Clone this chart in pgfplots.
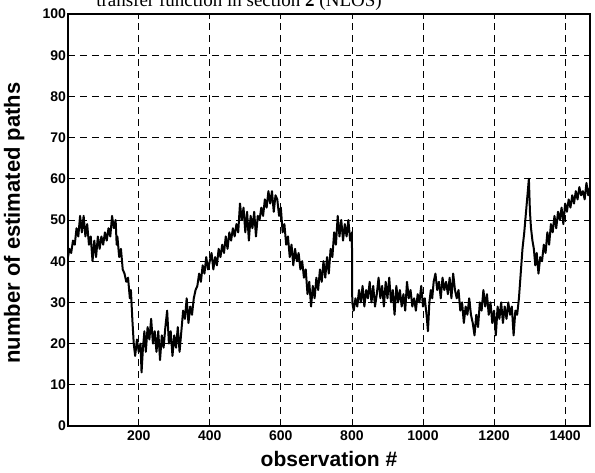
\documentclass[border=0pt]{standalone}
\usepackage{pgfplots}
\pgfplotsset{compat=1.18}
\usepackage{fontspec}
\setmainfont{Liberation Serif}
\setsansfont{Liberation Sans}
\begin{document}
\begin{tikzpicture}
\begin{axis}[
  at={(0,0)}, anchor=south west,
  scale only axis, width=522pt, height=412pt,
  xmin=1, xmax=1470, ymin=0, ymax=100,
  xtick={200,400,...,1400}, ytick={0,10,...,100},
  axis line style={line width=1.4pt},
  tick style={black, line width=0.8pt},
  major tick length=5pt, tick align=inside,
  grid=major,
  major grid style={black, line width=0.8pt, dash pattern=on 7pt off 5pt},
  tick label style={font=\sffamily\bfseries\fontsize{14}{14}\selectfont},
  /pgf/number format/assume math mode=true,
  /pgf/number format/1000 sep={},
  yticklabel style={xshift=1.5pt},
  xticklabel style={yshift=-1pt},
  clip=true,
]
\addplot[black, line width=2pt, line join=round] coordinates {
(1,41)(5,43)(10,42)(15,45)(20,44)(25,48)(30,46)(35,51)(40,47)(45,51)(50,46)(55,49)(60,44)(65,46)(70,40)(75,45)(80,41)(85,46)(90,43)(95,46)(100,44)(105,47)(110,45)(115,48)(120,46)(125,51)(130,48)(135,50)(138,44)(140,46)(145,41)(150,43)(155,38)(160,37)(165,35)(170,36)(175,31)(178,33)(182,26)(186,20)(190,17)(195,21)(200,18)(205,20)(208,13)(212,19)(216,23)(220,18)(225,24)(230,21)(235,26)(240,20)(245,23)(250,18)(255,23)(260,16)(265,22)(270,19)(275,24)(280,28)(285,20)(290,23)(295,17)(300,22)(305,19)(310,24)(315,18)(320,23)(325,28)(330,26)(335,31)(340,25)(345,29)(350,27)(355,31)(360,33)(365,34)(370,37)(375,35)(380,39)(385,37)(390,41)(395,38)(400,40)(405,42)(410,38)(415,41)(420,39)(425,43)(430,41)(435,44)(440,42)(445,46)(450,43)(455,47)(460,45)(465,48)(470,46)(475,49)(480,47)(485,54)(490,50)(495,53)(500,47)(505,52)(510,45)(515,51)(520,48)(525,52)(530,46)(535,51)(540,50)(545,53)(550,51)(555,55)(560,53)(565,57)(570,54)(575,57)(580,52)(585,56)(590,55)(595,51)(600,53)(605,47)(610,49)(615,44)(620,46)(625,41)(630,44)(635,39)(640,43)(645,40)(650,42)(655,38)(660,40)(665,36)(670,38)(675,32)(680,35)(685,29)(690,34)(695,31)(700,36)(705,33)(710,38)(715,35)(720,40)(725,36)(730,41)(735,37)(740,43)(745,41)(750,47)(755,44)(760,51)(765,46)(770,50)(775,45)(780,49)(785,46)(790,50)(795,45)(800,47)(801,30)(805,28)(810,31)(815,29)(820,33)(825,30)(830,34)(835,29)(840,33)(845,31)(850,35)(855,30)(860,34)(865,29)(870,32)(875,36)(880,31)(885,34)(890,29)(895,35)(900,31)(905,36)(910,30)(915,33)(920,27)(925,34)(930,30)(935,33)(940,29)(945,32)(950,28)(955,35)(960,31)(965,33)(970,29)(975,31)(980,28)(985,32)(990,30)(995,34)(1000,29)(1005,31)(1010,27)(1014,23)(1018,30)(1022,33)(1026,31)(1030,35)(1035,37)(1040,33)(1045,35)(1050,31)(1055,36)(1060,33)(1065,35)(1070,32)(1075,36)(1080,31)(1085,37)(1090,33)(1095,31)(1100,33)(1105,28)(1110,30)(1115,25)(1120,29)(1125,27)(1130,31)(1135,27)(1140,25)(1145,22)(1150,27)(1155,24)(1160,30)(1165,28)(1170,33)(1175,29)(1180,32)(1185,27)(1190,30)(1195,25)(1200,28)(1205,22)(1210,29)(1215,26)(1220,30)(1225,25)(1230,29)(1235,26)(1240,30)(1245,27)(1250,29)(1255,22)(1260,28)(1265,27)(1270,31)(1275,37)(1280,43)(1285,47)(1290,52)(1295,57)(1298,60)(1301,52)(1304,48)(1308,45)(1312,43)(1316,39)(1320,42)(1325,37)(1330,41)(1335,40)(1340,44)(1345,42)(1350,47)(1355,44)(1360,49)(1365,47)(1370,51)(1375,48)(1380,52)(1385,50)(1390,53)(1395,49)(1400,54)(1405,52)(1410,55)(1415,53)(1420,56)(1425,54)(1430,57)(1435,55)(1440,58)(1445,56)(1450,57)(1455,55)(1460,59)(1465,56)(1470,58)
};
\end{axis}
\node[anchor=base, font=\fontsize{19}{19}\selectfont] at (171pt,419pt) {transfer function in section \textbf{2} (NLOS)};
\node[anchor=base, font=\sffamily\bfseries\fontsize{21}{21}\selectfont] at (261pt,-41pt) {observation \#};
\node[rotate=90, anchor=base, font=\sffamily\bfseries\fontsize{22}{22}\selectfont] at (-48pt,203pt) {number of estimated paths};
\pgfresetboundingbox
\useasboundingbox (-68pt,-47pt) rectangle (527pt,426pt);
\end{tikzpicture}
\end{document}
